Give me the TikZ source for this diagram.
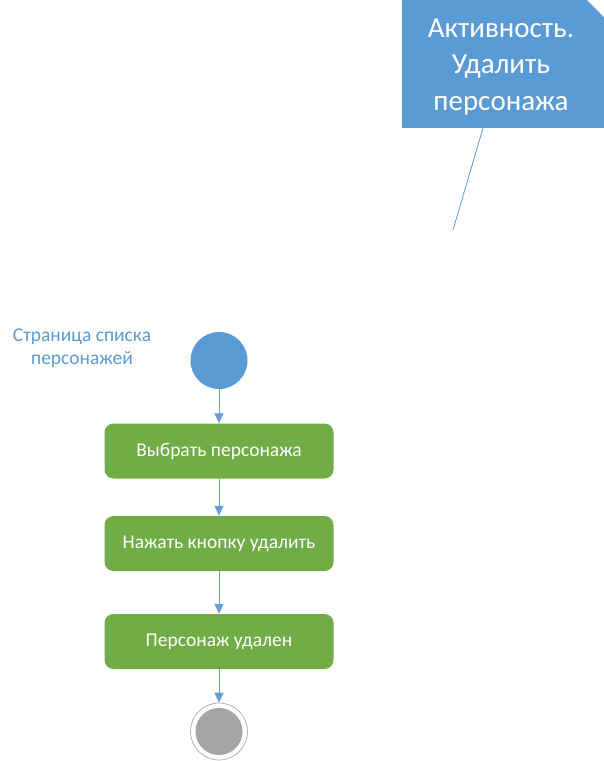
\documentclass[tikz,border=0pt]{standalone}
\usepackage{fontspec}
\setmainfont{Carlito}
\usetikzlibrary{arrows.meta}
\definecolor{noteblue}{RGB}{91, 155, 213}
\definecolor{flowblue}{RGB}{103, 158, 214}
\definecolor{actgreen}{RGB}{112, 173, 71}
\definecolor{endgray}{RGB}{165, 165, 165}
\definecolor{ringgray}{RGB}{170, 170, 170}

\tikzset{
    action/.style={fill=actgreen, rounded corners=9pt, minimum width=229pt, minimum height=55pt,
                   text=white, font=\fontsize{19.5}{23}\selectfont, inner sep=0pt},
    flow/.style={draw=flowblue, line width=1pt, -{Triangle[length=10pt,width=9pt]}},
}

\begin{document}
\begin{tikzpicture}[x=1pt, y=-1pt]
            \useasboundingbox (0,0) rectangle (604,761);
            % note
            \node[fill=noteblue, minimum width=202pt, minimum height=128pt, inner sep=0pt] (note) at (503,64) {};
            \fill[white]                 (587,0) -- (604,0) -- (604,17) -- cycle;
            \draw[ringgray!60, line width=0.6pt] (587,0) -- (604,17);
            \node[text=white, align=center, font=\fontsize{29}{36.5}\selectfont] (notetext) at (501,67)
                 {Активность.\\Удалить\\персонажа};
            \coordinate (notefoot) at (483,128);
            \coordinate (notetip)  at (453,230);
            \draw[noteblue, line width=0.8pt] (notefoot) -- (notetip);
            % start
            \node[circle, fill=noteblue, minimum size=57pt, inner sep=0pt] (start) at (219,360.5) {};
            \node[text=noteblue, align=center, font=\fontsize{19.5}{23.5}\selectfont] (startlabel) at (82,348)
                 {Страница списка\\персонажей};
            % actions
            \node[action] (choose) at (219,451)   {Выбрать персонажа};
            \node[action] (press)  at (219,543.5) {Нажать кнопку удалить};
            \node[action] (done)   at (219,641.5) {Персонаж удален};
            % end
            \node[circle, draw=ringgray, line width=0.7pt, minimum size=57pt, inner sep=0pt] (finish) at (219,731.5) {};
            \node[circle, fill=endgray, minimum size=47pt, inner sep=0pt] (finishdot) at (finish) {};
            % flows
            \draw[flow] (start)  -- (choose);
            \draw[flow] (choose) -- (press);
            \draw[flow] (press)  -- (done);
            \draw[flow] (done)   -- (finish);
\end{tikzpicture}
\end{document}
